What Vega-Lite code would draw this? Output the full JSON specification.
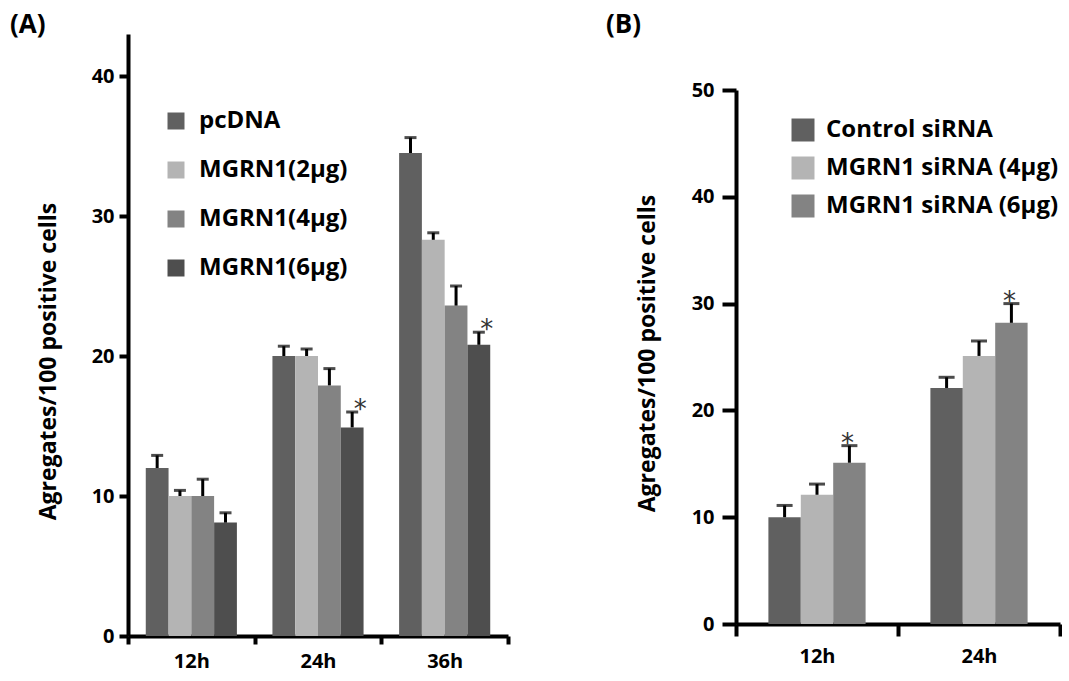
{
  "$schema": "https://vega.github.io/schema/vega-lite/v6.json",
  "background": "white",
  "padding": {"left": 10, "top": 12, "right": 0, "bottom": 0},
  "spacing": 96,
  "config": {
    "font": "Open Sans",
    "view": {"stroke": null},
    "axis": {
      "grid": false,
      "domainColor": "black",
      "domainWidth": 4,
      "tickColor": "black",
      "tickWidth": 4,
      "labelFont": "Open Sans",
      "labelFontWeight": "bold",
      "labelColor": "black",
      "labelFontSize": 20,
      "titleFont": "Open Sans",
      "titleFontWeight": "bold",
      "titleColor": "black",
      "titleFontSize": 23
    },
    "title": {"font": "Open Sans", "fontSize": 26, "fontWeight": "bold", "color": "black", "anchor": "start", "frame": "bounds"},
    "legend": {
      "title": null,
      "labelFont": "Open Sans",
      "labelFontWeight": "bold",
      "labelColor": "black",
      "labelLimit": 0,
      "symbolType": "square",
      "symbolStrokeWidth": 0,
      "symbolOpacity": 1,
      "padding": 0
    }
  },
  "resolve": {
    "scale": {"color": "independent", "x": "independent", "y": "independent", "xOffset": "independent"},
    "legend": {"color": "independent"}
  },
  "hconcat": [
    {
      "title": {"text": "(A)", "offset": -4, "dx": -27},
      "width": 380,
      "height": 602,
      "data": {
        "values": [
          {"time": "12h", "group": "pcDNA", "mean": 12.0, "upper": 12.9, "sig": ""},
          {"time": "12h", "group": "MGRN1(2μg)", "mean": 10.0, "upper": 10.4, "sig": ""},
          {"time": "12h", "group": "MGRN1(4μg)", "mean": 10.0, "upper": 11.2, "sig": ""},
          {"time": "12h", "group": "MGRN1(6μg)", "mean": 8.1, "upper": 8.8, "sig": ""},
          {"time": "24h", "group": "pcDNA", "mean": 20.0, "upper": 20.7, "sig": ""},
          {"time": "24h", "group": "MGRN1(2μg)", "mean": 20.0, "upper": 20.5, "sig": ""},
          {"time": "24h", "group": "MGRN1(4μg)", "mean": 17.9, "upper": 19.1, "sig": ""},
          {"time": "24h", "group": "MGRN1(6μg)", "mean": 14.9, "upper": 16.0, "sig": "*"},
          {"time": "36h", "group": "pcDNA", "mean": 34.5, "upper": 35.6, "sig": ""},
          {"time": "36h", "group": "MGRN1(2μg)", "mean": 28.3, "upper": 28.8, "sig": ""},
          {"time": "36h", "group": "MGRN1(4μg)", "mean": 23.6, "upper": 25.0, "sig": ""},
          {"time": "36h", "group": "MGRN1(6μg)", "mean": 20.8, "upper": 21.7, "sig": "*"}
        ]
      },
      "encoding": {
        "x": {
          "field": "time", "type": "nominal",
          "scale": {"paddingInner": 0, "paddingOuter": 0},
          "axis": {"title": null, "labelAngle": 0, "tickBand": "extent", "tickSize": 8, "labelPadding": 7, "labelFontSize": 20}
        },
        "xOffset": {
          "field": "group", "type": "nominal",
          "sort": ["pcDNA", "MGRN1(2μg)", "MGRN1(4μg)", "MGRN1(6μg)"],
          "scale": {"paddingInner": 0, "paddingOuter": 0.78}
        }
      },
      "layer": [
        {
          "mark": {"type": "bar"},
          "encoding": {
            "y": {
              "field": "mean", "type": "quantitative",
              "scale": {"domain": [0, 43], "nice": false},
              "axis": {"values": [0, 10, 20, 30, 40], "title": "Agregates/100 positive cells", "tickSize": 9, "labelPadding": 5, "titleX": -68, "titleY": 327}
            },
            "color": {
              "field": "group", "type": "nominal",
              "scale": {"domain": ["pcDNA", "MGRN1(2μg)", "MGRN1(4μg)", "MGRN1(6μg)"], "range": ["#606060", "#b4b4b4", "#838383", "#4e4e4e"]},
              "legend": {"orient": "none", "legendX": 36, "legendY": 75, "labelFontSize": 24, "symbolSize": 289, "rowPadding": 25, "labelOffset": 11}
            }
          }
        },
        {
          "mark": {"type": "rule", "color": "black", "strokeWidth": 3},
          "encoding": {"y": {"field": "mean", "type": "quantitative"}, "y2": {"field": "upper"}}
        },
        {
          "mark": {"type": "tick", "color": "black", "thickness": 3, "size": 12},
          "encoding": {"y": {"field": "upper", "type": "quantitative"}}
        },
        {
          "transform": [{"filter": "datum.sig == '*'"}],
          "mark": {"type": "text", "baseline": "bottom", "font": "DejaVu Sans", "fontSize": 26, "fill": "#333333", "dx": 8, "dy": 11},
          "encoding": {"y": {"field": "upper", "type": "quantitative"}, "text": {"field": "sig"}}
        }
      ]
    },
    {
      "title": {"text": "(B)", "offset": -4, "dx": -30},
      "width": 324,
      "height": 590,
      "data": {
        "values": [
          {"time": "12h", "group": "Control siRNA", "mean": 10.0, "upper": 11.1, "sig": ""},
          {"time": "12h", "group": "MGRN1 siRNA (4μg)", "mean": 12.1, "upper": 13.1, "sig": ""},
          {"time": "12h", "group": "MGRN1 siRNA (6μg)", "mean": 15.1, "upper": 16.7, "sig": "*"},
          {"time": "24h", "group": "Control siRNA", "mean": 22.1, "upper": 23.1, "sig": ""},
          {"time": "24h", "group": "MGRN1 siRNA (4μg)", "mean": 25.1, "upper": 26.5, "sig": ""},
          {"time": "24h", "group": "MGRN1 siRNA (6μg)", "mean": 28.2, "upper": 30.0, "sig": "*"}
        ]
      },
      "encoding": {
        "x": {
          "field": "time", "type": "nominal",
          "scale": {"paddingInner": 0, "paddingOuter": 0},
          "axis": {"title": null, "labelAngle": 0, "tickBand": "extent", "tickSize": 12, "labelPadding": 10, "labelFontSize": 20}
        },
        "xOffset": {
          "field": "group", "type": "nominal",
          "sort": ["Control siRNA", "MGRN1 siRNA (4μg)", "MGRN1 siRNA (6μg)"],
          "scale": {"paddingInner": 0, "paddingOuter": 1.05}
        }
      },
      "layer": [
        {
          "mark": {"type": "bar"},
          "encoding": {
            "y": {
              "field": "mean", "type": "quantitative",
              "scale": {"domain": [0, 50], "nice": false, "range": [590, 56]},
              "axis": {"values": [0, 10, 20, 30, 40, 50], "title": "Agregates/100 positive cells", "tickSize": 14, "labelPadding": 8, "titleX": -77, "titleY": 319}
            },
            "color": {
              "field": "group", "type": "nominal",
              "scale": {"domain": ["Control siRNA", "MGRN1 siRNA (4μg)", "MGRN1 siRNA (6μg)"], "range": ["#606060", "#b4b4b4", "#838383"]},
              "legend": {"orient": "none", "legendX": 55, "legendY": 84, "labelFontSize": 24, "symbolSize": 529, "rowPadding": 14, "labelOffset": 11}
            }
          }
        },
        {
          "mark": {"type": "rule", "color": "black", "strokeWidth": 3},
          "encoding": {"y": {"field": "mean", "type": "quantitative"}, "y2": {"field": "upper"}}
        },
        {
          "mark": {"type": "tick", "color": "black", "thickness": 3, "size": 16},
          "encoding": {"y": {"field": "upper", "type": "quantitative"}}
        },
        {
          "transform": [{"filter": "datum.sig == '*'"}],
          "mark": {"type": "text", "baseline": "bottom", "font": "DejaVu Sans", "fontSize": 26, "fill": "#333333", "dx": -2, "dy": 11},
          "encoding": {"y": {"field": "upper", "type": "quantitative"}, "text": {"field": "sig"}}
        }
      ]
    }
  ]
}
